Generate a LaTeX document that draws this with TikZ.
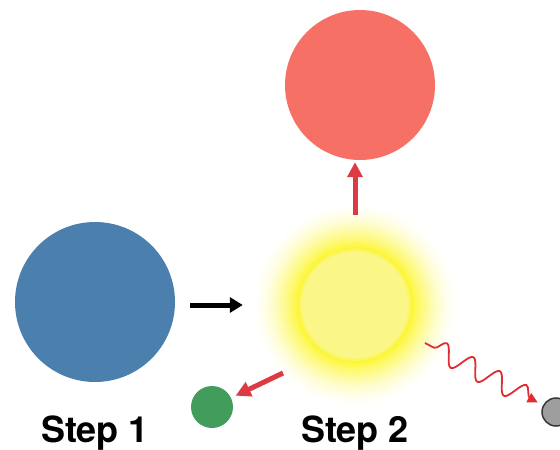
\documentclass[tikz,border=0pt]{standalone}
\usepackage{fontspec}
\setmainfont{TeX Gyre Heros}
\usetikzlibrary{arrows.meta,decorations.pathmorphing}
\definecolor{bluec}{RGB}{74,127,174}
\definecolor{redc}{RGB}{247,112,102}
\definecolor{arrred}{RGB}{222,58,68}
\definecolor{greenc}{RGB}{66,157,92}
\definecolor{grayc}{RGB}{158,158,158}
\definecolor{grayd}{RGB}{55,55,55}
\definecolor{glowy}{RGB}{252,246,40}
\definecolor{pale}{RGB}{250,246,135}
\definecolor{wavec}{RGB}{225,45,50}
\tikzset{
  ball/.style={circle,inner sep=0pt,minimum size=#1},
  redarrow/.style={draw=arrred,line width=5pt,-{Triangle[length=15pt,width=15pt]}},
  blackarrow/.style={draw=black,line width=5pt,-{Triangle[length=13pt,width=15pt]}},
  wave/.style={draw=wavec,line width=1.8pt,decorate,
    decoration={snake,amplitude=10pt,segment length=30pt,pre length=10pt,post length=14pt},
    -{Triangle[length=10pt,width=10pt]}},
  steplabel/.style={font=\fontsize{36}{40}\selectfont\bfseries,anchor=base,inner sep=0pt}
}
\begin{document}
\begin{tikzpicture}[x=1pt,y=-1pt]
\useasboundingbox (0,0) rectangle (560,450);
\begin{scope}
\clip (0,0) rectangle (560,450);
% glow
\foreach \r in {104,102,...,58}{
  \pgfmathsetmacro\p{92*((104-\r)/46)^1.7}
  \fill[glowy!\p!white] (355,305) circle (\r);
}
\foreach \r in {58,57,...,53}{
  \pgfmathsetmacro\q{92*(\r-53)/5}
  \fill[glowy!\q!pale] (355,305) circle (\r);
}
\node[ball=116pt] (yellow) at (355,305) {};
\node[ball=160pt,fill=bluec] (blue) at (95,302) {};
\node[ball=150pt,fill=redc] (red) at (360,85) {};
\node[ball=42pt,fill=greenc] (green) at (212,407) {};
\node[ball=28pt,fill=grayc,draw=grayd,line width=1.5pt] (gray) at (556,412) {};
\coordinate (gtail) at (283,373);
\coordinate (wstart) at (425,343);
\coordinate (btail) at (190,305);
\coordinate (rtip) at (yellow.north |- red.south);
\draw[blackarrow,shorten >=54pt] (btail) -- (yellow.west);
\draw[redarrow,shorten <=32pt,shorten >=2pt] (yellow.north) -- (rtip);
\draw[redarrow,shorten >=5pt] (gtail) -- (green);
\draw[wave,shorten >=6pt] (wstart) -- (gray);
\end{scope}
\node[steplabel] (s1) at (95,442) {Step 1};
\node[steplabel] (s2) at (355,442) {Step 2};
\end{tikzpicture}
\end{document}
